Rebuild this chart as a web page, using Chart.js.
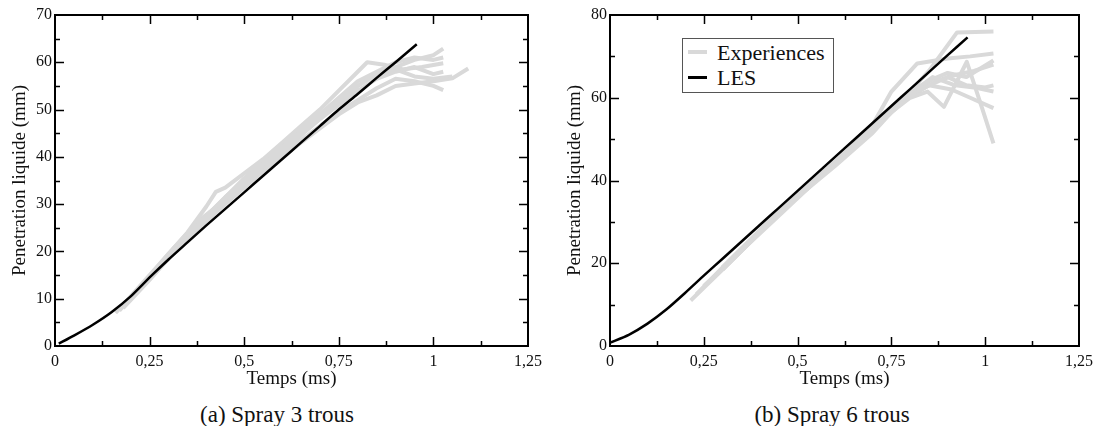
<!DOCTYPE html>
<html>
<head>
<meta charset="utf-8">
<script src="https://cdn.jsdelivr.net/npm/chart.js@4"></script>
<style>
  body { margin: 0; background: #fff; width: 1099px; height: 426px; overflow: hidden; position: relative; font-family: "Liberation Serif", serif; }
  .box { position: absolute; top: 0; height: 390px; }
  .caption { position: absolute; top: 402px; font-size: 23px; line-height: 26px; color: #111; white-space: nowrap; transform: translateX(-50%); }
  #legend { position: absolute; left: 682px; top: 38px; width: 150px; height: 53px; border: 1px solid #555; background: #fff; font-size: 22px; line-height: 25px; color: #111; }
  #legend div { position: absolute; left: 34px; white-space: nowrap; }
  #legend span { position: absolute; left: 5px; width: 19px; }
</style>
</head>
<body>
<div class="box" style="left:0; width:548px;"><canvas id="chartA"></canvas></div>
<div class="box" style="left:555px; width:544px;"><canvas id="chartB"></canvas></div>
<div class="caption" style="left:277px;">(a) Spray 3 trous</div>
<div class="caption" style="left:832px;">(b) Spray 6 trous</div>
<div id="legend">
  <span style="top:11px; height:4px; background:#d9d9d9;"></span><div style="top:1px;">Experiences</div>
  <span style="top:37px; height:3px; background:#000;"></span><div style="top:26px;">LES</div>
</div>
<script>
// tick labels
const xTickLabels = ['0', '0,25', '0,5', '0,75', '1', '1,25'];
const yTicksA = [0, 10, 20, 30, 40, 50, 60, 70];
const yTicksB = [0, 20, 40, 60, 80];

// (a) Spray 3 trous - LES
const lesA_t = [0.01, 0.05, 0.1, 0.15, 0.2, 0.25, 0.3, 0.35, 0.4, 0.45, 0.5, 0.55, 0.6, 0.65, 0.7, 0.75, 0.8, 0.85, 0.9, 0.956];
const lesA_y = [0.5, 2.2, 4.5, 7.2, 10.5, 14.5, 18.3, 21.9, 25.5, 29, 32.5, 36, 39.5, 43, 46.5, 50, 53.3, 56.7, 60, 63.8];

// (a) Spray 3 trous - experiences
const expA1_t = [0.16, 0.2, 0.25, 0.3, 0.35, 0.4, 0.425, 0.45, 0.5, 0.55, 0.6, 0.65, 0.7, 0.75, 0.8, 0.825, 0.87, 0.92, 0.97, 1.026];
const expA1_y = [7, 10.5, 15, 19.5, 24, 29.5, 32.6, 33.5, 36.5, 39.5, 43, 46.5, 50, 54, 58, 60, 59.5, 58.5, 59, 59.8];
const expA2_t = [0.17, 0.25, 0.3, 0.35, 0.4, 0.45, 0.5, 0.55, 0.6, 0.65, 0.7, 0.75, 0.8, 0.85, 0.9, 0.95, 1.0, 1.026];
const expA2_y = [7.5, 14.5, 19, 23.5, 27.5, 31.5, 35, 38.5, 42, 45.5, 49, 52, 55, 57.5, 59, 60.5, 61.5, 62.9];
const expA3_t = [0.18, 0.25, 0.3, 0.4, 0.5, 0.55, 0.6, 0.65, 0.7, 0.75, 0.8, 0.85, 0.9, 0.95, 1.0, 1.05, 1.092];
const expA3_y = [8, 14, 18.5, 26.5, 33.5, 37, 40, 43, 46, 49, 51.5, 53, 55, 55.5, 56, 56.6, 58.7];
const expA4_t = [0.2, 0.3, 0.4, 0.5, 0.6, 0.65, 0.7, 0.75, 0.8, 0.85, 0.9, 0.95, 1.0, 1.026];
const expA4_y = [10, 19, 27.5, 35, 41, 44.5, 48, 51, 54, 56.5, 58, 59, 57.5, 58];
const expA5_t = [0.2, 0.3, 0.4, 0.5, 0.6, 0.7, 0.75, 0.8, 0.85, 0.9, 0.95, 1.0, 1.026];
const expA5_y = [10, 18.5, 26.5, 34, 40.5, 46.5, 49.5, 52, 54.5, 56.5, 56, 55, 54.1];
const expA6_t = [0.22, 0.3, 0.4, 0.5, 0.6, 0.7, 0.75, 0.8, 0.85, 0.9, 0.95, 1.0, 1.05];
const expA6_y = [12, 19, 27, 34.5, 41.5, 48, 51.5, 55, 57.5, 58.5, 57, 56.5, 57];
const expA7_t = [0.2, 0.3, 0.38, 0.42, 0.5, 0.6, 0.7, 0.8, 0.85, 0.9, 0.95, 1.0, 1.026];
const expA7_y = [10, 19.5, 26.5, 29, 35.5, 42.5, 49, 56, 58, 60, 61, 60.5, 61];

// (b) Spray 6 trous - LES
const lesB_t = [0, 0.05, 0.1, 0.15, 0.2, 0.25, 0.3, 0.35, 0.4, 0.45, 0.5, 0.55, 0.6, 0.65, 0.7, 0.75, 0.8, 0.85, 0.9, 0.953];
const lesB_y = [0.8, 2.7, 5.4, 8.8, 12.8, 17, 21.1, 25.2, 29.3, 33.4, 37.5, 41.6, 45.7, 49.8, 53.9, 58, 62.1, 66.2, 70.3, 74.6];

// (b) Spray 6 trous - experiences
const expB1_t = [0.215, 0.3, 0.4, 0.5, 0.6, 0.7, 0.8, 0.85, 0.925, 1.022];
const expB1_y = [11, 18.5, 27.5, 36.5, 44.5, 52.5, 61.5, 66.5, 75.8, 76];
const expB2_t = [0.23, 0.3, 0.4, 0.5, 0.6, 0.7, 0.75, 0.819, 0.9, 0.96, 1.022];
const expB2_y = [12.5, 19, 28, 36, 44, 53.5, 61.5, 68.3, 69.5, 70, 70.7];
const expB3_t = [0.25, 0.35, 0.45, 0.55, 0.65, 0.7, 0.75, 0.8, 0.846, 0.89, 0.951, 0.99, 1.022];
const expB3_y = [14.5, 23, 31.5, 40, 48, 52, 56.5, 60, 61.5, 57.8, 68.7, 58, 49];
const expB4_t = [0.3, 0.4, 0.5, 0.6, 0.7, 0.8, 0.87, 0.92, 0.97, 1.022];
const expB4_y = [19, 28, 36.5, 44.5, 52.5, 60.5, 64, 65.5, 66.5, 68];
const expB5_t = [0.3, 0.4, 0.5, 0.6, 0.7, 0.8, 0.86, 0.92, 0.97, 1.022];
const expB5_y = [18.5, 27.5, 36, 44, 52.5, 61, 65, 63, 62.5, 61.5];
const expB6_t = [0.3, 0.4, 0.5, 0.6, 0.7, 0.78, 0.85, 0.91, 0.96, 1.022];
const expB6_y = [18.5, 27.5, 36, 43.5, 51.5, 59.5, 63, 62, 60, 57.5];
const expB7_t = [0.3, 0.4, 0.5, 0.6, 0.7, 0.8, 0.86, 0.9, 0.95, 1.022];
const expB7_y = [19, 28, 36.5, 44.5, 53, 61.5, 64.5, 66, 65, 69];
const expB8_t = [0.4, 0.5, 0.6, 0.7, 0.8, 0.85, 0.9, 0.95, 1.0, 1.022];
const expB8_y = [28, 36.5, 44.5, 52.5, 60.5, 63, 65, 63, 62.5, 63];

const GREY = '#d9d9d9';
const FONT = '"Liberation Serif", "Times New Roman", serif';

function points(t, y) {
    return t.map((v, i) => ({ x: v, y: y[i] }));
}

function greySet(t, y) {
    return { data: points(t, y), borderColor: GREY, borderWidth: 4, pointRadius: 0, borderJoinStyle: 'round', borderCapStyle: 'butt' };
}

// frame box with inward major/minor ticks on all four sides
const frameTicks = {
    id: 'frameTicks',
    afterDraw(chart, args, opts) {
        const { ctx, chartArea: a, scales: { x, y } } = chart;
        ctx.save();
        ctx.strokeStyle = '#000';
        ctx.lineWidth = 1.5;
        ctx.beginPath();
        for (let i = 0; x.min + i * opts.xMinor <= x.max + 1e-9; i++) {
            const v = x.min + i * opts.xMinor;
            if (i === 0 || v >= x.max - 1e-9) continue;
            const len = i % 2 === 0 ? 9 : 5;
            const px = Math.round(x.getPixelForValue(v)) + 0.5;
            ctx.moveTo(px, a.bottom); ctx.lineTo(px, a.bottom - len);
            ctx.moveTo(px, a.top); ctx.lineTo(px, a.top + len);
        }
        for (let i = 0; y.min + i * opts.yMinor <= y.max + 1e-9; i++) {
            const v = y.min + i * opts.yMinor;
            if (i === 0 || v >= y.max - 1e-9) continue;
            const len = i % 2 === 0 ? 9 : 5;
            const py = Math.round(y.getPixelForValue(v)) + 0.5;
            ctx.moveTo(a.left, py); ctx.lineTo(a.left + len, py);
            ctx.moveTo(a.right, py); ctx.lineTo(a.right - len, py);
        }
        ctx.stroke();
        ctx.lineWidth = 2;
        ctx.strokeRect(a.left, a.top, a.right - a.left, a.bottom - a.top);
        ctx.restore();
    }
};

function makeChart(id, datasets, yMax, yStep, yMinor, rightPad) {
    return new Chart(document.getElementById(id).getContext('2d'), {
        type: 'line',
        data: { datasets },
        plugins: [frameTicks],
        options: {
            responsive: true,
            maintainAspectRatio: false,
            animation: false,
            layout: { padding: { top: 15, right: rightPad, left: 0, bottom: 0 } },
            plugins: {
                legend: { display: false },
                tooltip: { enabled: false },
                frameTicks: { xMinor: 0.125, yMinor: yMinor }
            },
            scales: {
                x: {
                    type: 'linear',
                    min: 0, max: 1.25,
                    grid: { display: false, drawTicks: false },
                    border: { display: false },
                    ticks: {
                        stepSize: 0.25, autoSkip: false, maxRotation: 0, padding: 6,
                        color: '#111', font: { family: FONT, size: 16 },
                        callback: (v, i) => xTickLabels[i]
                    },
                    title: { display: true, text: 'Temps (ms)', color: '#111', padding: 0, font: { family: FONT, size: 19 } },
                    afterFit: scale => { scale.height = 44; }
                },
                y: {
                    min: 0, max: yMax,
                    grid: { display: false, drawTicks: false },
                    border: { display: false },
                    ticks: {
                        stepSize: yStep, padding: 3,
                        color: '#111', font: { family: FONT, size: 16 }
                    },
                    title: { display: true, text: 'Penetration liquide (mm)', color: '#111', padding: { top: 9, bottom: 0 }, font: { family: FONT, size: 19 } },
                    afterFit: scale => { scale.width = 55; }
                }
            }
        }
    });
}

const lesStyle = { borderColor: '#000', borderWidth: 2.5, pointRadius: 0, borderJoinStyle: 'round', tension: 0.2 };

makeChart('chartA', [
    Object.assign({ label: 'LES', data: points(lesA_t, lesA_y) }, lesStyle),
    greySet(expA1_t, expA1_y),
    greySet(expA2_t, expA2_y),
    greySet(expA3_t, expA3_y),
    greySet(expA4_t, expA4_y),
    greySet(expA5_t, expA5_y),
    greySet(expA6_t, expA6_y),
    greySet(expA7_t, expA7_y)
], yTicksA[yTicksA.length - 1], yTicksA[1], 5, 19);

makeChart('chartB', [
    Object.assign({ label: 'LES', data: points(lesB_t, lesB_y) }, lesStyle),
    greySet(expB1_t, expB1_y),
    greySet(expB2_t, expB2_y),
    greySet(expB3_t, expB3_y),
    greySet(expB4_t, expB4_y),
    greySet(expB5_t, expB5_y),
    greySet(expB6_t, expB6_y),
    greySet(expB7_t, expB7_y),
    greySet(expB8_t, expB8_y)
], yTicksB[yTicksB.length - 1], yTicksB[1], 10, 16);
</script>
</body>
</html>
